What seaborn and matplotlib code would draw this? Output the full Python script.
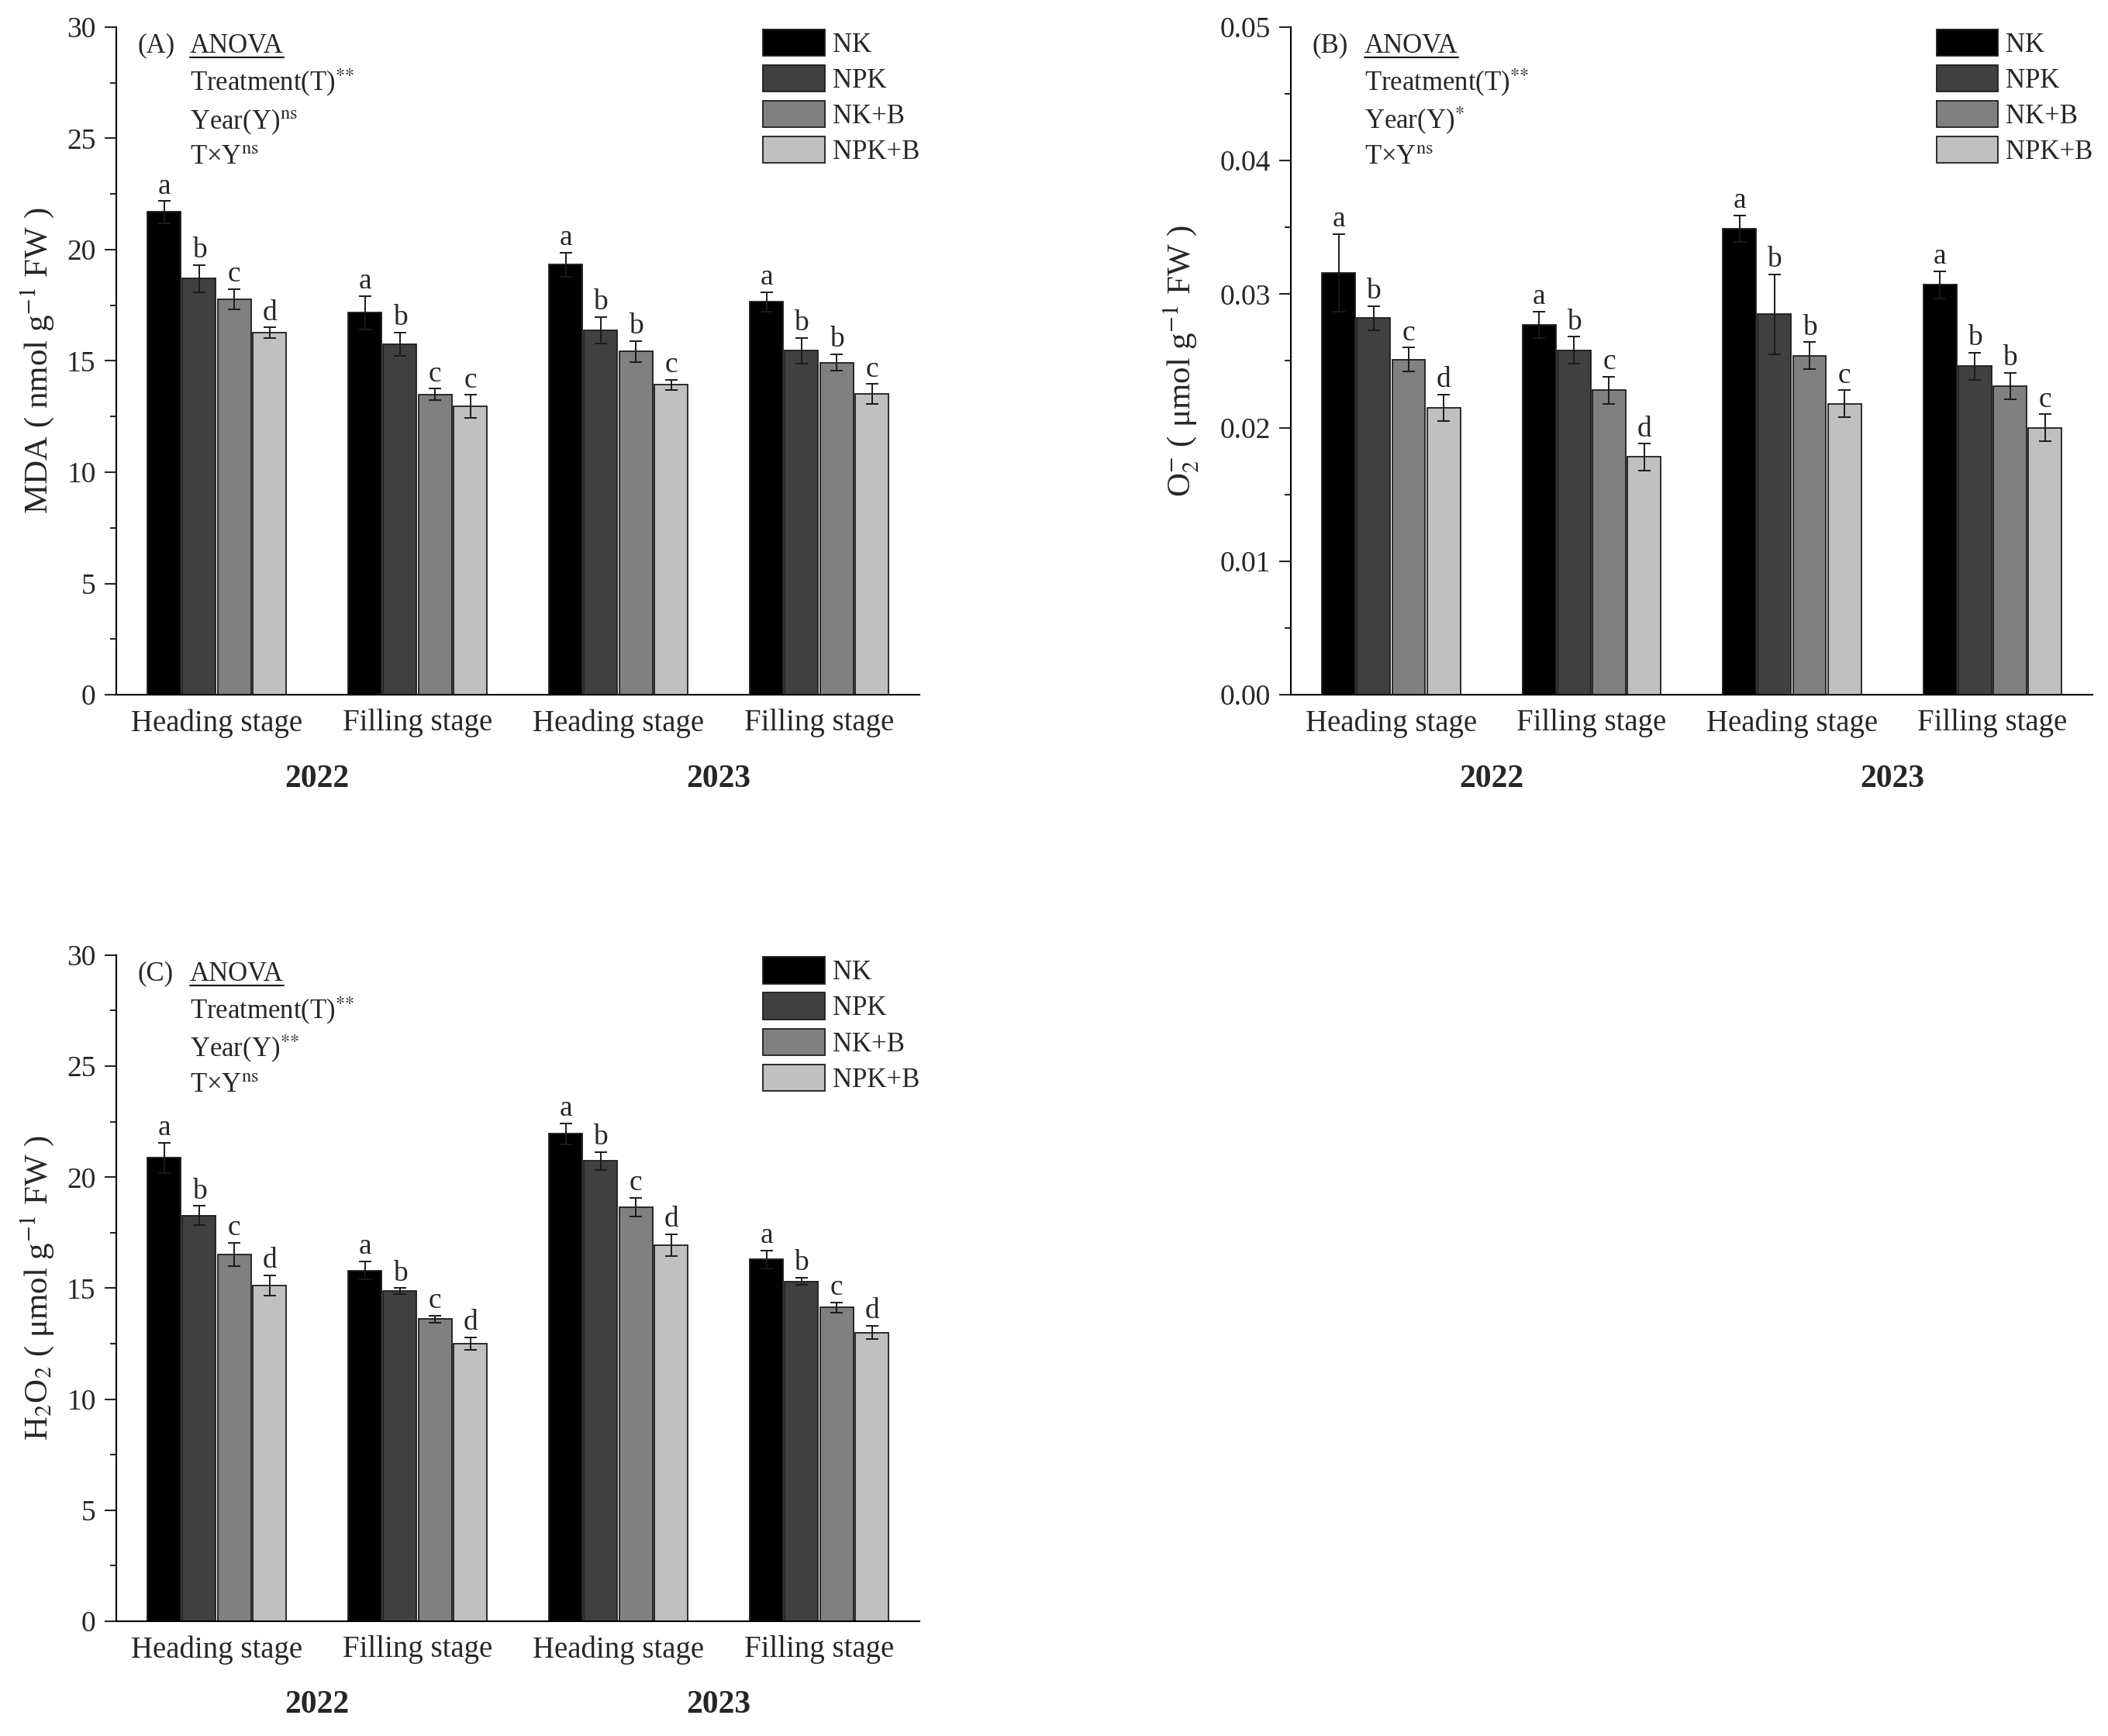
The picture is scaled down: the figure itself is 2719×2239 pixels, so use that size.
import numpy as np
import pandas as pd
import matplotlib.pyplot as plt
import seaborn as sns
from matplotlib.ticker import MultipleLocator, FormatStrFormatter

# categories
treatments = ['NK', 'NPK', 'NK+B', 'NPK+B']
groups = ['2022 Heading', '2022 Filling', '2023 Heading', '2023 Filling']
stage_labels = ['Heading stage', 'Filling stage', 'Heading stage', 'Filling stage']
years = ['2022', '2023']
bar_colors = ['#000000', '#404040', '#808080', '#c0c0c0']

# (A) MDA, one list per treatment over the 4 groups
mda_nk = [21.69, 17.16, 19.33, 17.65]
mda_npk = [18.70, 15.74, 16.37, 15.46]
mda_nkb = [17.77, 13.50, 15.43, 14.92]
mda_npkb = [16.27, 12.96, 13.92, 13.52]
mda_err_nk = [0.49, 0.75, 0.54, 0.44]
mda_err_npk = [0.60, 0.53, 0.60, 0.58]
mda_err_nkb = [0.45, 0.25, 0.47, 0.37]
mda_err_npkb = [0.23, 0.51, 0.23, 0.44]
mda_letters_nk = ['a', 'a', 'a', 'a']
mda_letters_npk = ['b', 'b', 'b', 'b']
mda_letters_nkb = ['c', 'c', 'b', 'b']
mda_letters_npkb = ['d', 'c', 'c', 'c']

# (B) O2-
o2_nk = [0.0316, 0.0277, 0.0349, 0.0307]
o2_npk = [0.0282, 0.0258, 0.0285, 0.0246]
o2_nkb = [0.0251, 0.0228, 0.0254, 0.0231]
o2_npkb = [0.0215, 0.0178, 0.0218, 0.0200]
o2_err_nk = [0.0029, 0.0010, 0.0010, 0.0010]
o2_err_npk = [0.0009, 0.0010, 0.0030, 0.0010]
o2_err_nkb = [0.0009, 0.0010, 0.0010, 0.0010]
o2_err_npkb = [0.0010, 0.0010, 0.0010, 0.0010]
o2_letters_nk = ['a', 'a', 'a', 'a']
o2_letters_npk = ['b', 'b', 'b', 'b']
o2_letters_nkb = ['c', 'c', 'b', 'b']
o2_letters_npkb = ['d', 'd', 'c', 'c']

# (C) H2O2
h2o2_nk = [20.87, 15.80, 21.96, 16.30]
h2o2_npk = [18.28, 14.86, 20.73, 15.31]
h2o2_nkb = [16.53, 13.61, 18.66, 14.13]
h2o2_npkb = [15.12, 12.50, 16.93, 13.00]
h2o2_err_nk = [0.68, 0.40, 0.47, 0.40]
h2o2_err_npk = [0.42, 0.14, 0.40, 0.16]
h2o2_err_nkb = [0.52, 0.16, 0.42, 0.23]
h2o2_err_npkb = [0.45, 0.28, 0.50, 0.30]
h2o2_letters_nk = ['a', 'a', 'a', 'a']
h2o2_letters_npk = ['b', 'b', 'b', 'b']
h2o2_letters_nkb = ['c', 'c', 'c', 'c']
h2o2_letters_npkb = ['d', 'd', 'd', 'd']

sns.set_style('ticks')
plt.rcParams['font.family'] = ['Liberation Serif', 'DejaVu Serif']
plt.rcParams['mathtext.fontset'] = 'stix'


def make_frame(values, errors, letters):
    rows = []
    for t, vals, errs, lets in zip(treatments, values, errors, letters):
        for g, v, e, l in zip(groups, vals, errs, lets):
            rows.append({'group': g, 'treatment': t, 'value': v, 'err': e, 'letter': l})
    return pd.DataFrame(rows)


def draw_panel(ax, df, ymax, ystep, fmt, ylabel, label_x, tag, anova):
    sns.barplot(data=df, x='group', y='value', hue='treatment', order=groups,
                hue_order=treatments, palette=bar_colors, errorbar=None,
                width=0.7, gap=0.05, edgecolor='#1e1e1e', linewidth=1.3,
                legend=False, ax=ax)

    # error bars and significance letters
    for cont, t in zip(ax.containers, treatments):
        sub = df[df['treatment'] == t].set_index('group').loc[groups]
        xs = [b.get_x() + b.get_width() / 2 for b in cont.patches]
        ax.errorbar(xs, sub['value'], yerr=sub['err'], fmt='none',
                    ecolor='#1a1a1a', elinewidth=1.4, capsize=6, capthick=1.4)
        for x, v, e, l in zip(xs, sub['value'], sub['err'], sub['letter']):
            ax.annotate(l, (x, v + e), xytext=(0, 7), textcoords='offset points',
                        ha='center', va='baseline', fontsize=27)

    ax.set_xlim(-0.5, 3.5)
    ax.set_ylim(0, ymax)
    ax.yaxis.set_major_locator(MultipleLocator(ystep))
    ax.yaxis.set_minor_locator(MultipleLocator(ystep / 2))
    ax.yaxis.set_major_formatter(FormatStrFormatter(fmt))
    ax.set_xticks(range(4))
    ax.set_xticklabels(stage_labels)
    ax.tick_params(axis='x', length=0, pad=13, labelsize=28)
    ax.tick_params(axis='y', which='major', direction='out', length=11,
                   width=1.5, pad=8, labelsize=27)
    ax.tick_params(axis='y', which='minor', direction='out', length=5.5, width=1.5)
    for side in ['top', 'right']:
        ax.spines[side].set_visible(False)
    for side in ['left', 'bottom']:
        ax.spines[side].set_linewidth(1.5)
        ax.spines[side].set_color('black')

    ax.set_xlabel('')
    ax.set_ylabel(ylabel, fontsize=31)
    ax.yaxis.set_label_coords(label_x, 0.5)

    for i, yr in enumerate(years):
        ax.text(0.5 + 2 * i, -0.126, yr, transform=ax.get_xaxis_transform(),
                ha='center', va='center', fontsize=30, fontweight='bold')

    ax.legend(handles=ax.containers, labels=treatments, loc='upper right',
              bbox_to_anchor=(1.0, 0.997), frameon=False, fontsize=25,
              borderaxespad=0, borderpad=0, handlelength=2.28, handleheight=1.15,
              labelspacing=0.26, handletextpad=0.29)

    ax.text(0.026, 0.962, tag, transform=ax.transAxes, fontsize=25, va='baseline')
    anova_txt = ax.text(0.0917, 0.962, 'ANOVA', transform=ax.transAxes,
                        fontsize=25, va='baseline')
    lines = ['Treatment(T)$^{%s}$' % anova[0], 'Year(Y)$^{%s}$' % anova[1],
             'T×Y$^{%s}$' % anova[2]]
    for y, s in zip([0.904, 0.847, 0.795], lines):
        ax.text(0.0917, y, s, transform=ax.transAxes, fontsize=25, va='baseline')
    return anova_txt


fig = plt.figure(figsize=(27.19, 22.39), dpi=100)
ax_a = fig.add_axes([0.0552, 0.5998, 0.3810, 0.3846])
ax_b = fig.add_axes([0.6124, 0.5998, 0.3803, 0.3846])
ax_c = fig.add_axes([0.0552, 0.0661, 0.3810, 0.3837])

df_a = make_frame([mda_nk, mda_npk, mda_nkb, mda_npkb],
                  [mda_err_nk, mda_err_npk, mda_err_nkb, mda_err_npkb],
                  [mda_letters_nk, mda_letters_npk, mda_letters_nkb, mda_letters_npkb])
df_b = make_frame([o2_nk, o2_npk, o2_nkb, o2_npkb],
                  [o2_err_nk, o2_err_npk, o2_err_nkb, o2_err_npkb],
                  [o2_letters_nk, o2_letters_npk, o2_letters_nkb, o2_letters_npkb])
df_c = make_frame([h2o2_nk, h2o2_npk, h2o2_nkb, h2o2_npkb],
                  [h2o2_err_nk, h2o2_err_npk, h2o2_err_nkb, h2o2_err_npkb],
                  [h2o2_letters_nk, h2o2_letters_npk, h2o2_letters_nkb, h2o2_letters_npkb])

stars2 = '{*}{*}'
anova_texts = [
    (ax_a, draw_panel(ax_a, df_a, 30, 5, '%d', 'MDA ( nmol g$^{-1}$ FW )', -0.075, '(A)',
                      [stars2, r'\mathrm{ns}', r'\mathrm{ns}'])),
    (ax_b, draw_panel(ax_b, df_b, 0.05, 0.01, '%.2f', 'O$_2^{-}$ ( μmol g$^{-1}$ FW )',
                      -0.112, '(B)', [stars2, '*', r'\mathrm{ns}'])),
    (ax_c, draw_panel(ax_c, df_c, 30, 5, '%d', 'H$_2$O$_2$ ( μmol g$^{-1}$ FW )', -0.075,
                      '(C)', [stars2, stars2, r'\mathrm{ns}'])),
]

# underline the ANOVA headings
fig.canvas.draw()
for ax, t in anova_texts:
    bb = t.get_window_extent()
    x0, _ = ax.transAxes.inverted().transform((bb.x0, 0))
    x1, _ = ax.transAxes.inverted().transform((bb.x1, 0))
    base_px = ax.transAxes.transform((0, 0.962))[1] - 6
    _, yu = ax.transAxes.inverted().transform((0, base_px))
    ax.plot([x0, x1], [yu, yu], transform=ax.transAxes, color='black',
            lw=1.5, clip_on=False)

fig.savefig('out.png', dpi=100)
